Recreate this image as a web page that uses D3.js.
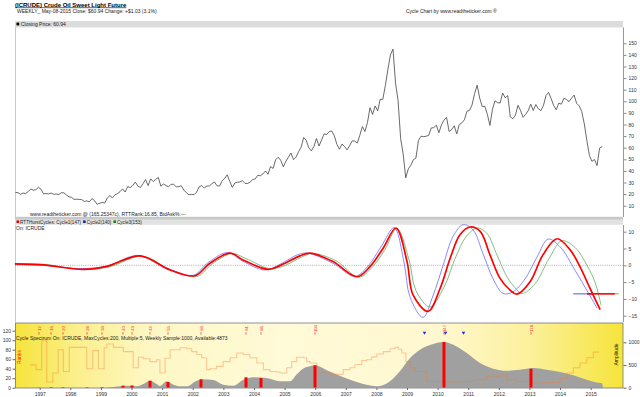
<!DOCTYPE html>
<html><head><meta charset="utf-8">
<script src="https://cdn.jsdelivr.net/npm/d3@7"></script>
<style>
body{margin:0;background:#fff;}
svg text{font-family:"Liberation Sans",Arial,sans-serif;}
</style></head>
<body><svg id="c" width="640" height="397"></svg>
<script>
// ---------------- DATA ----------------
const titleText = "(ICRUDE) Crude Oil Sweet Light Future";
const subtitleText = "WEEKLY_ May-08-2015  Close: $60.94  Change: +$1.03  (3.1%)";
const creditText = "Cycle Chart by www.readtheticker.com \u00ae";
const priceHeader = "Closing Price: 60.94";
const infoText = "www.readtheticker.com @ (165.25347c), RTTRank:16.85, BidAsk%:---";
const spectrumText = "Cycle Spectrum On: ICRUDE, MaxCycles:200, Multiple:5, Weekly Sample:1000, Available:4873";

// monthly closes starting March 1996
const priceStart = [1996, 3];
const priceValues = [
 21.5,21.2,19.8,20.9,20.4,22.2,24.4,23.4,23.8,25.9,
 24.2,20.3,20.4,20.2,20.9,19.8,20.1,19.6,21.2,21.1,19.2,17.6,
 17.2,15.4,15.6,15.4,15.2,13.7,14.1,13.4,16.1,14.4,11.2,12.1,
 12.8,12.3,16.7,18.7,16.8,19.3,20.5,22.1,24.5,21.8,26.5,25.6,
 27.6,30.4,26.9,25.7,29.0,32.5,27.4,33.1,30.8,32.7,34.4,26.8,
 28.7,27.4,26.3,28.5,28.4,26.3,26.4,27.2,23.4,21.2,19.4,19.8,
 19.5,21.7,26.3,27.3,25.3,26.9,27.0,28.9,30.5,27.2,26.9,31.2,
 33.5,36.6,31.0,25.8,29.6,30.2,30.5,31.6,29.2,29.1,30.4,32.5,
 33.1,36.2,35.8,37.4,39.9,37.1,43.8,42.1,49.6,51.8,49.1,43.5,
 48.2,51.8,55.4,49.7,51.9,56.5,60.6,68.9,66.2,59.8,57.3,61.0,
 67.9,61.4,66.6,71.9,71.3,73.9,74.4,70.3,62.9,58.7,63.1,61.1,
 58.1,61.8,65.9,65.7,64.0,70.7,78.2,74.0,81.7,94.5,88.7,96.0,
 91.8,101.8,101.6,113.5,127.4,140.0,145.0,115.5,100.6,67.8,54.4,34.0,
 41.7,44.8,49.7,51.1,66.3,69.9,69.5,69.9,70.6,77.0,77.3,79.4,
 72.9,79.7,83.8,86.2,74.0,75.6,78.9,71.9,80.0,81.4,84.1,91.4,
 92.2,97.0,106.7,113.9,102.7,95.4,95.7,88.8,79.2,93.2,100.4,98.8,
 98.5,107.1,103.0,104.9,86.5,85.0,88.1,96.5,92.2,86.2,88.9,91.8,
 97.5,92.1,97.2,93.5,92.0,96.6,105.0,107.7,102.3,96.4,92.7,98.4,
 97.5,102.6,101.6,99.7,102.7,105.4,98.2,96.0,91.2,80.5,66.2,53.3,
 48.2,49.8,44.6,59.6,60.94
];
const priceTicks = [10,20,30,40,50,60,70,80,90,100,110,120,130,140,150];

// Hurst cycles (decimal year, value)
const cycle1Years = [1996.19,1997.11,1998.41,1999.20,2000.28,2001.26,2002.07,2002.56,2003.22,2003.64,2004.46,2004.85,2005.50,2005.83,2006.58,2007.37,2007.79,2008.22,2008.64,2009.00,2009.20,2009.69,2010.08,2010.41,2010.73,2011.06,2011.39,2011.71,2012.04,2012.37,2012.59,2013.02,2013.44,2013.90,2014.33,2014.65,2014.98,2015.31];
const cycle1Values = [0.4,0.1,-1.2,-0.3,2.8,-1.4,-3.1,0.6,3.6,1.6,-1.2,-0.1,2.8,3.6,1.1,-3.4,-0.4,5.1,11.1,1.1,-8.9,-13.7,-6.9,2.1,9.1,11.4,10.1,3.1,-3.9,-7.4,-8.6,-4.9,3.1,7.9,4.6,-0.4,-6.9,-13.2];
const cycle2Years = [1996.19,1997.11,1998.41,1999.20,2000.21,2001.26,2002.01,2002.50,2003.15,2003.64,2004.36,2004.85,2005.44,2005.77,2006.58,2007.30,2007.73,2008.15,2008.58,2008.90,2009.10,2009.52,2009.85,2010.18,2010.50,2010.83,2011.16,2011.48,2011.81,2012.14,2012.46,2012.86,2013.25,2013.61,2014.00,2014.49,2014.91,2015.21];
const cycle2Values = [0.2,0.0,-1.0,-0.2,2.9,-1.2,-3.0,0.8,3.8,1.2,-1.4,0.3,3.2,3.6,0.6,-3.3,-0.2,5.5,11.2,1.0,-9.5,-15.5,-9.0,0.0,8.5,12.1,10.5,3.5,-4.0,-8.4,-7.9,-4.0,2.5,7.8,5.5,-1.5,-8.0,-12.8];
const cycle3Years = [1996.19,1997.11,1998.48,1999.30,2000.34,2001.32,2002.14,2002.63,2003.28,2003.74,2004.52,2004.95,2005.57,2005.90,2006.65,2007.43,2007.86,2008.28,2008.67,2009.07,2009.29,2009.75,2010.21,2010.57,2010.93,2011.29,2011.61,2011.94,2012.27,2012.56,2012.76,2013.18,2013.64,2014.06,2014.49,2014.88,2015.14,2015.34];
const cycle3Values = [0.5,0.3,-1.3,-0.4,2.7,-1.5,-3.3,0.4,3.5,2.0,-1.0,-0.3,2.5,3.5,1.5,-3.5,-0.6,4.7,11.0,1.5,-7.5,-12.4,-6.5,2.0,8.5,11.1,9.5,3.0,-3.5,-7.0,-8.4,-5.5,2.0,7.3,5.3,0.0,-5.0,-11.9];
const cycleNames = ["Cycle1(147)","Cycle2(140)","Cycle3(153)"];
// projection levels [start year, end year]
const projBlue = [2014.43, 2015.08];
const projRed = [2014.88, 2015.79];
const projGreen = [2015.79, 2015.92];
const projLevel = -8.5;
const cycleTicks = [10,5,0,-5,-10,-15];

// Cycle spectrum (cycle length -> amplitude)
const spectrumLens = [4,34,36,39,40.7,44.6,46.8,49,51.2,52.3,54.6,56.8,59,61.2,64.6,66.8,70.1,73.4,76.8,80.1,83.4,87.9,92.3,95.7,98,100,102.3,104,107,110,115.7,121.2,124.6,129,132.3,135.7,139,143.4,146.8,150.1,154.6,159,163.4,167.9,172.3,176.8,181.2,185.7,190.1,194.6,199,199.7,200];
const spectrumAmps = [0,0,10,31,45,31,82,155,82,38,141,66,31,31,155,185,170,66,45,177,229,214,141,141,300,420,471,493,420,324,176,64,31,141,361,654,837,963,1007,947,764,544,419,374,396,434,396,346,273,176,103,100,0];
const barLens = [12,16,20,28,33,40,43,49,55,66,81,86,104,147,176];
const barAmps = [4,12,12,12,15,45,50,154,125,185,229,213,493,1007,418];
const markerLens = [140,147,153];
const rankLens = [9,11,12.9,14.6,16.6,18.4,20.1,22.1,27.9,29.9,31.8,33.7,34.6,36.8,40.1,43.4,45.1,46.8,49,51.2,52.3,54,55.7,59,61.2,62.9,64.6,66.2,67.9,69,71.2,73.4,75.7,77.9,80.1,82.3,84.6,86.8,89,91.2,92.3,94.6,96.2,97.9,100.1,101.2,102.3,104.6,110,113.4,115.7,117.3,119.6,121.2,122.9,124.6,126.8,129,130.7,131.8,132.9,134.3,135.7,137.3,141.2,146.8,152.3,156.8,161.2,165.7,167.9,171.2,176.8,181.2,185.7,187.9,190.1,192.3,194.6,196.8,198.5];
const rankVals = [48,38,99,12,31,80,34,85,40,78,40,84,92,85,76,42,64,61,55,59,31,62,80,84,82,76,70,63,38,40,45,55,63,73,70,63,52,38,34,33,31,42,55,64,63,55,52,31,28,38,42,49,57,59,65,71,76,82,85,81,73,55,42,34,13,12,13,17,24,29,17,13,10,11,20,31,42,52,63,75,76];
const rankTicks = [0,20,40,60,80,100,120];
const ampTicks = [0,500,1000];
const yearTicks = [1997,1998,1999,2000,2001,2002,2003,2004,2005,2006,2007,2008,2009,2010,2011,2012,2013,2014,2015];

// ---------------- LAYOUT ----------------
const L = 15, R = 623;
const svg = d3.select("#c");
const FS = 5;

const xT = d3.scaleLinear().domain([1996.193, 2016.056]).range([L, R]);
const xC = d3.scaleLinear().domain([4, 206.67]).range([L, R]);
const yP = d3.scaleLinear().domain([10, 150]).range([205.7, 43.3]);
const yC = d3.scaleLinear().domain([-15, 10]).range([315.7, 231.7]);
const yRank = d3.scaleLinear().domain([0, 120]).range([387.7, 330.7]);
const yAmp = d3.scaleLinear().domain([0, 1000]).range([387.7, 342.3]);

// title
svg.append("text").attr("x", 15).attr("y", 6.5).attr("font-size", 6).attr("font-weight", "bold")
  .attr("text-decoration", "underline").attr("fill", "#000").text(titleText);
svg.append("text").attr("x", 17).attr("y", 13.3).attr("font-size", FS).attr("fill", "#222").text(subtitleText);
svg.append("text").attr("x", 406).attr("y", 13).attr("font-size", FS).attr("fill", "#222").text(creditText);

// ---------- top panel ----------
svg.append("rect").attr("x", L).attr("y", 21).attr("width", R - L).attr("height", 6.5).attr("fill", "#dcdcdc");
svg.append("rect").attr("x", 16.5).attr("y", 22.6).attr("width", 2.8).attr("height", 2.8).attr("fill", "#000");
svg.append("text").attr("x", 21).attr("y", 26).attr("font-size", FS).attr("fill", "#222").text(priceHeader);
svg.append("line").attr("x1", L + 0.5).attr("x2", L + 0.5).attr("y1", 27.5).attr("y2", 217).attr("stroke", "#c8c8c8");
svg.append("line").attr("x1", R + 0.5).attr("x2", R + 0.5).attr("y1", 27.5).attr("y2", 217).attr("stroke", "#999");

const priceData = priceValues.map((v, i) => [priceStart[0] + (priceStart[1] - 1 + i + 0.5) / 12, v]);
svg.append("path").datum(priceData)
  .attr("d", d3.line().x(d => xT(d[0])).y(d => yP(d[1])))
  .attr("fill", "none").attr("stroke", "#444").attr("stroke-width", 0.8);

const gP = svg.append("g").attr("transform", `translate(${R + 0.5},0)`)
  .call(d3.axisRight(yP).tickValues(priceTicks).tickSize(3).tickPadding(2).tickFormat(d3.format("d")));
gP.select(".domain").remove();
gP.selectAll("line").attr("stroke", "#888");
gP.selectAll("text").attr("font-size", FS).attr("fill", "#333").attr("font-family", "Liberation Sans, Arial, sans-serif");

svg.append("text").attr("x", 30).attr("y", 215.5).attr("font-size", FS).attr("fill", "#222").text(infoText);

// ---------- middle panel ----------
svg.append("rect").attr("x", L).attr("y", 216.8).attr("width", R - L).attr("height", 3).attr("fill", "#c8c8c8");
svg.append("rect").attr("x", L).attr("y", 219.8).attr("width", R - L).attr("height", 5).attr("fill", "#e2e2e2");
svg.append("line").attr("x1", L + 0.5).attr("x2", L + 0.5).attr("y1", 225).attr("y2", 322).attr("stroke", "#c8c8c8");
svg.append("line").attr("x1", R + 0.5).attr("x2", R + 0.5).attr("y1", 225).attr("y2", 322).attr("stroke", "#999");

const legendItems = [
  {c: "#e00000", t: "RTTHurstCycles: " + cycleNames[0]},
  {c: "#1020c0", t: cycleNames[1]},
  {c: "#108010", t: cycleNames[2]}
];
let lx = 16.5;
legendItems.forEach(it => {
  svg.append("rect").attr("x", lx).attr("y", 220.4).attr("width", 2.6).attr("height", 2.6).attr("fill", it.c);
  const t = svg.append("text").attr("x", lx + 3.6).attr("y", 223.6).attr("font-size", 4.6).attr("fill", "#222").text(it.t);
  lx = lx + 3.6 + t.node().getComputedTextLength() + 2;
});
svg.append("text").attr("x", 16).attr("y", 230.4).attr("font-size", FS).attr("fill", "#222").text("On: ICRUDE");

svg.append("line").attr("x1", L).attr("x2", R).attr("y1", yC(0)).attr("y2", yC(0))
  .attr("stroke", "#777").attr("stroke-width", 0.6).attr("stroke-dasharray", "1,1.2");

const cLine = d3.line().x(d => xT(d[0])).y(d => yC(d[1])).curve(d3.curveCatmullRom.alpha(0.5));
svg.append("path").datum(d3.zip(cycle3Years, cycle3Values)).attr("d", cLine)
  .attr("fill", "none").attr("stroke", "#74b874").attr("stroke-width", 0.9);
svg.append("path").datum(d3.zip(cycle2Years, cycle2Values)).attr("d", cLine)
  .attr("fill", "none").attr("stroke", "#7c7cff").attr("stroke-width", 0.9);
svg.append("path").datum(d3.zip(cycle1Years, cycle1Values)).attr("d", cLine)
  .attr("fill", "none").attr("stroke", "#ff0000").attr("stroke-width", 1.7);

[[projBlue, "#5050ff", 1], [projGreen, "#6fb36f", 1], [projRed, "#ff0000", 1.6]].forEach(p => {
  svg.append("line").attr("x1", xT(p[0][0])).attr("x2", xT(p[0][1]))
    .attr("y1", yC(projLevel)).attr("y2", yC(projLevel)).attr("stroke", p[1]).attr("stroke-width", p[2]);
});

const gC = svg.append("g").attr("transform", `translate(${R + 0.5},0)`)
  .call(d3.axisRight(yC).tickValues(cycleTicks).tickSize(3).tickPadding(2).tickFormat(d3.format("d")));
gC.select(".domain").remove();
gC.selectAll("line").attr("stroke", "#888");
gC.selectAll("text").attr("font-size", FS).attr("fill", "#333").attr("font-family", "Liberation Sans, Arial, sans-serif");

// ---------- bottom panel ----------
const defs = svg.append("defs");
const grad = defs.append("linearGradient").attr("id", "yg").attr("x1", "0").attr("x2", "1").attr("y1", "0").attr("y2", "0");
[[0, "#f6e43a"], [0.1, "#fbef8c"], [0.22, "#fef7c4"], [0.45, "#fffad8"], [0.7, "#fff8cf"], [0.85, "#fcf09a"], [1, "#f6e43a"]]
  .forEach(s => grad.append("stop").attr("offset", s[0]).attr("stop-color", s[1]));
svg.append("rect").attr("x", L).attr("y", 323).attr("width", R - L).attr("height", 65).attr("fill", "url(#yg)");

const spec = d3.zip(spectrumLens, spectrumAmps);
svg.append("path").datum(spec)
  .attr("d", d3.area().x(d => xC(d[0])).y0(yAmp(0)).y1(d => yAmp(d[1])).curve(d3.curveMonotoneX))
  .attr("fill", "#a0a0a0");

const rankData = d3.zip(rankLens, rankVals);
const rankLine = d3.line().x(d => xC(d[0])).y(d => yRank(d[1])).curve(d3.curveStepAfter);
svg.append("path").datum(rankData).attr("d", rankLine)
  .attr("fill", "none").attr("stroke", "rgba(245,120,50,0.38)").attr("stroke-width", 1.1);

svg.selectAll(".bar").data(d3.zip(barLens, barAmps)).join("rect")
  .attr("x", d => xC(d[0]) - 1.5).attr("width", 3)
  .attr("y", d => yAmp(d[1])).attr("height", d => yAmp(0) - yAmp(d[1]))
  .attr("fill", "#ff0000");

// top labels
barLens.forEach(l => {
  const x = xC(l);
  svg.append("text").attr("transform", `translate(${x + 1.6},328.5) rotate(-90)`)
    .attr("text-anchor", "middle").attr("font-size", 4.2).attr("fill", "#ff2020").text(l);
  svg.append("line").attr("x1", x).attr("x2", x).attr("y1", 332.2).attr("y2", 334.6)
    .attr("stroke", "#ff2020").attr("stroke-width", 0.7);
});
markerLens.forEach(l => {
  const x = xC(l) + 1.5;
  svg.append("path").attr("d", `M${x - 1.8},331.8 L${x + 1.8},331.8 L${x},334.8 Z`).attr("fill", "#2a2ae0");
});

svg.append("text").attr("x", 16).attr("y", 339.6).attr("font-size", FS).attr("fill", "#222").text(spectrumText);

svg.append("text").attr("transform", "translate(21,357) rotate(-90)").attr("text-anchor", "middle")
  .attr("font-size", FS).attr("fill", "#ff2020").text("Ranks");
svg.append("text").attr("transform", "translate(617.5,354.5) rotate(-90)").attr("text-anchor", "middle")
  .attr("font-size", FS).attr("fill", "#222").text("Amplitude");

svg.append("rect").attr("x", L + 0.5).attr("y", 323).attr("width", R - L - 0.5).attr("height", 65)
  .attr("fill", "none").attr("stroke", "#777").attr("stroke-width", 0.8);

const gR = svg.append("g").attr("transform", `translate(${L},0)`)
  .call(d3.axisLeft(yRank).tickValues(rankTicks).tickSize(2.5).tickPadding(1.5).tickFormat(d3.format("d")));
gR.select(".domain").remove();
gR.selectAll("line").attr("stroke", "#666");
gR.selectAll("text").attr("font-size", FS).attr("fill", "#333").attr("font-family", "Liberation Sans, Arial, sans-serif");

const gA = svg.append("g").attr("transform", `translate(${R + 0.5},0)`)
  .call(d3.axisRight(yAmp).tickValues(ampTicks).tickSize(3).tickPadding(2).tickFormat(d3.format("d")));
gA.select(".domain").remove();
gA.selectAll("line").attr("stroke", "#666");
gA.selectAll("text").attr("font-size", FS).attr("fill", "#333").attr("font-family", "Liberation Sans, Arial, sans-serif");

const gX = svg.append("g").attr("transform", "translate(0,388)")
  .call(d3.axisBottom(xT).tickValues(yearTicks).tickSize(2).tickPadding(2).tickFormat(d3.format("d")));
gX.select(".domain").remove();
gX.selectAll("line").attr("stroke", "#666");
gX.selectAll("text").attr("font-size", FS).attr("fill", "#333").attr("font-family", "Liberation Sans, Arial, sans-serif");
</script>
</body></html>
